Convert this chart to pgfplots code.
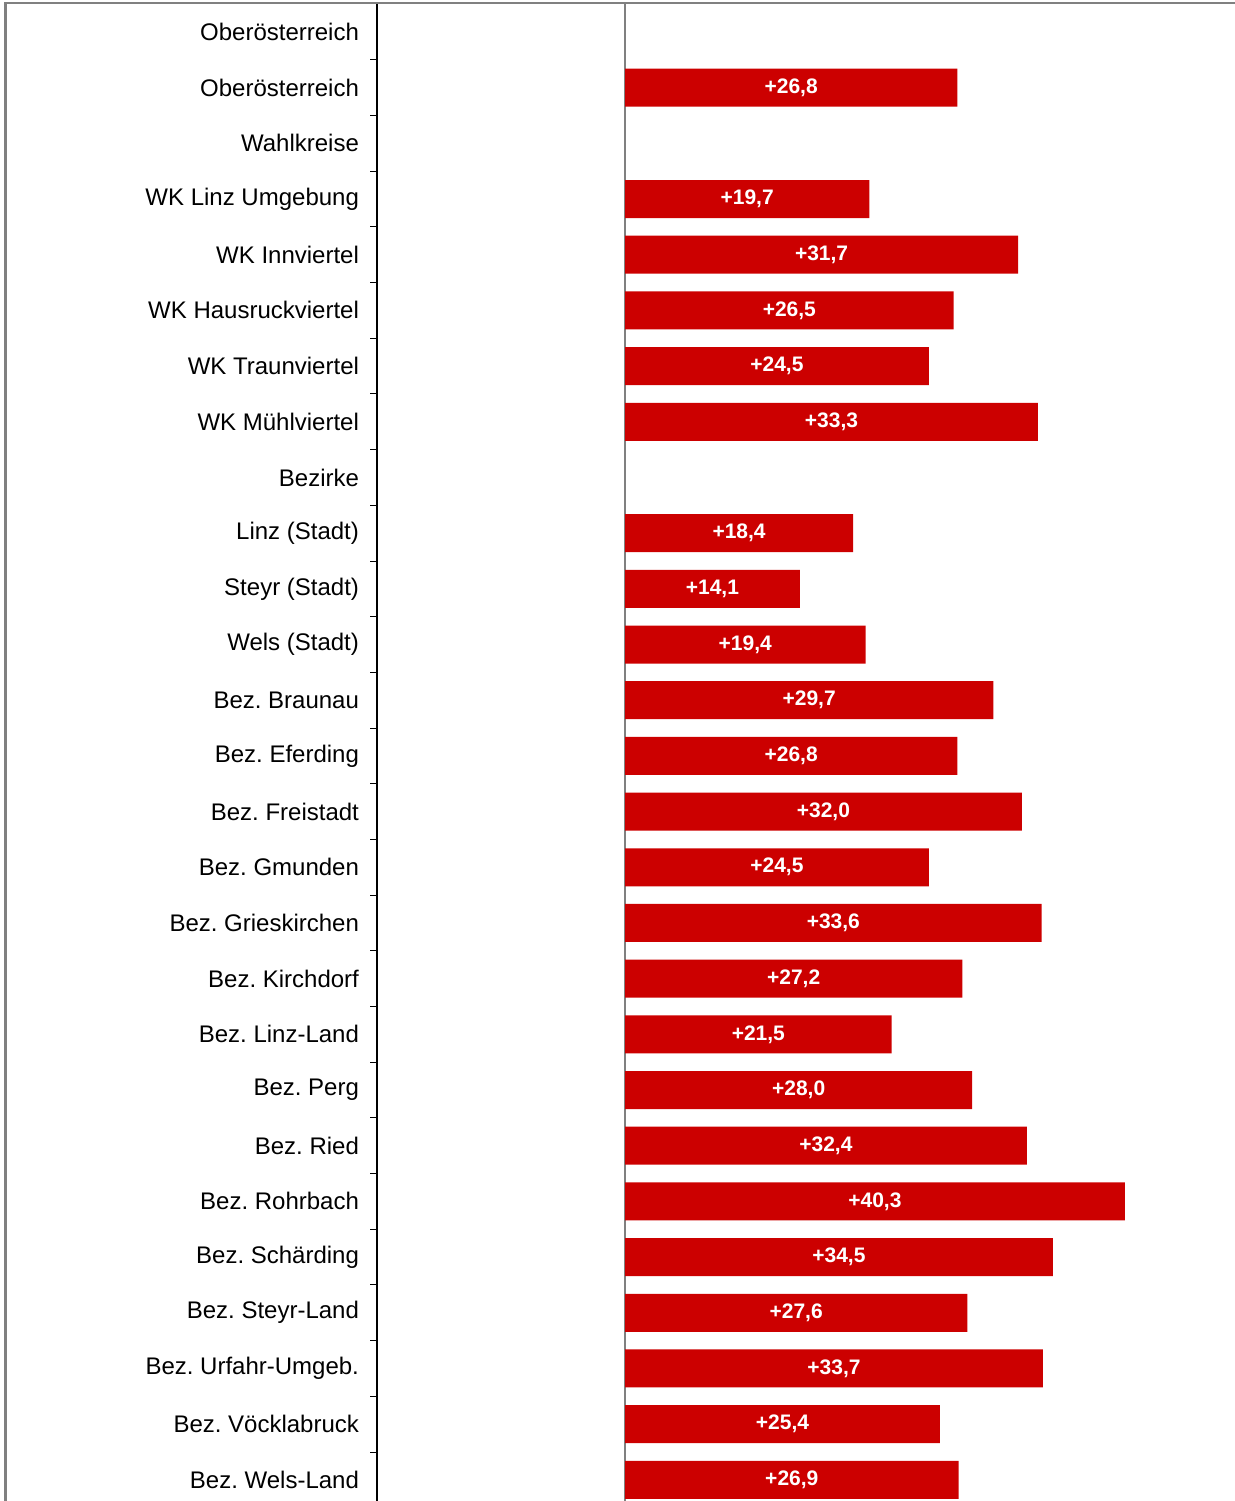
\documentclass[border=0pt]{standalone}
\usepackage{fontspec}
\setmainfont{Liberation Sans}
\usepackage{pgfplots}
\pgfplotsset{compat=1.18}
\definecolor{barred}{HTML}{CC0000}
\frenchspacing
\begin{document}
\frenchspacing
\begin{tikzpicture}
\useasboundingbox (0,0) rectangle (617.5pt,750.5pt);
\begin{axis}[
  at={(188.5pt,0pt)}, anchor=south west,
  scale only axis, width=429pt, height=749pt,
  xmin=-20, xmax=49.19, ymin=-0.52, ymax=26.38, y dir=reverse,
  axis x line=none, axis y line*=left,
  y axis line style={black, line width=0.55pt, -},
  ytick={0,...,26},
  yticklabels={Oberösterreich, Oberösterreich, Wahlkreise, WK Linz Umgebung, WK Innviertel, WK Hausruckviertel, WK Traunviertel, WK Mühlviertel, Bezirke, Linz (Stadt), Steyr (Stadt), Wels (Stadt), Bez. Braunau, Bez. Eferding, Bez. Freistadt, Bez. Gmunden, Bez. Grieskirchen, Bez. Kirchdorf, Bez. Linz-Land, Bez. Perg, Bez. Ried, Bez. Rohrbach, Bez. Schärding, Bez. Steyr-Land, Bez. Urfahr-Umgeb., Bez. Vöcklabruck, Bez. Wels-Land},
  major tick length=0pt,
  minor ytick={0.5,1.5,...,25.5},
  minor tick length=3.5pt,
  tick align=outside,
  minor tick style={black, line width=0.5pt},
  yticklabel style={font=\fontsize{12}{14}\selectfont\frenchspacing, xshift=-5.5pt, text=black},
  clip=false,
]
\draw[gray, line width=0.6pt] (axis cs:0,-0.52) -- (axis cs:0,26.38);
\addplot[xbar, bar width=19pt, fill=barred, draw=none,
  point meta=x,
  visualization depends on={x \as \rawx},
  nodes near coords={\pgfmathprintnumber[fixed, fixed zerofill, precision=1, use comma, showpos, assume math mode=true]{\pgfplotspointmeta}},
  nodes near coords style={anchor=center, xshift={-3.1pt*\rawx}, text=white, font=\fontsize{10.5}{12}\selectfont\bfseries},
] coordinates {
(26.8,1)
(19.7,3)
(31.7,4)
(26.5,5)
(24.5,6)
(33.3,7)
(18.4,9)
(14.1,10)
(19.4,11)
(29.7,12)
(26.8,13)
(32.0,14)
(24.5,15)
(33.6,16)
(27.2,17)
(21.5,18)
(28.0,19)
(32.4,20)
(40.3,21)
(34.5,22)
(27.6,23)
(33.7,24)
(25.4,25)
(26.9,26)
};
\end{axis}
\draw[gray, line width=1.2pt] (2.75pt,0pt) -- (2.75pt,749pt) -- (617.5pt,749pt);
\end{tikzpicture}
\end{document}
